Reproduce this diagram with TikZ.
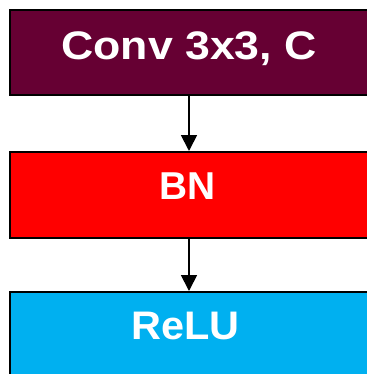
\documentclass[tikz,border=0pt]{standalone}
\usepackage{fontspec}
\setmainfont{Liberation Sans}
\newfontfamily\widesans[FakeStretch=1.12]{Liberation Sans}
\newfontfamily\semiwidesans[FakeStretch=1.04]{Liberation Sans}
\usetikzlibrary{arrows.meta}
\definecolor{convfill}{HTML}{660033}
\definecolor{bnfill}{HTML}{FF0000}
\definecolor{relufill}{HTML}{00B0F0}
\begin{document}
\begin{tikzpicture}[x=1bp,y=1bp,
  layerbox/.style={draw=black, line width=2bp, minimum width=400bp,
    inner sep=0pt, anchor=west},
  layertext/.style={inner sep=0pt, text=white, text height=27bp, text depth=0pt,
    anchor=north},
  flow/.style={line width=1.8bp, -{Triangle[width=16bp,length=16bp]}}]
\useasboundingbox (0,0) rectangle (367,-374);
% the three layer boxes run past the right and bottom edges of the page
\node[layerbox, fill=convfill, minimum height=85bp] (conv) at (9,-52.5) {};
\node[layerbox, fill=bnfill, minimum height=86bp] (bn) at (9,-195) {};
\node[layerbox, fill=relufill, minimum height=86bp] (relu) at (9,-335) {};
% labels, placed by the top of their capitals
\node[layertext, font=\fontsize{40}{40}\selectfont\bfseries\widesans] (convtext) at (189,-32) {Conv 3x3, C};
\node[layertext, font=\fontsize{39}{39}\selectfont\bfseries] (bntext) at (187.5,-172) {BN};
\node[layertext, font=\fontsize{40}{40}\selectfont\bfseries\semiwidesans] (relutext) at (185.5,-312) {ReLU};
% connectors
\draw[flow] (conv.south -| convtext.south) -- (bn.north -| convtext.south);
\draw[flow] (bn.south -| convtext.south) -- (relu.north -| convtext.south);
\end{tikzpicture}
\end{document}
